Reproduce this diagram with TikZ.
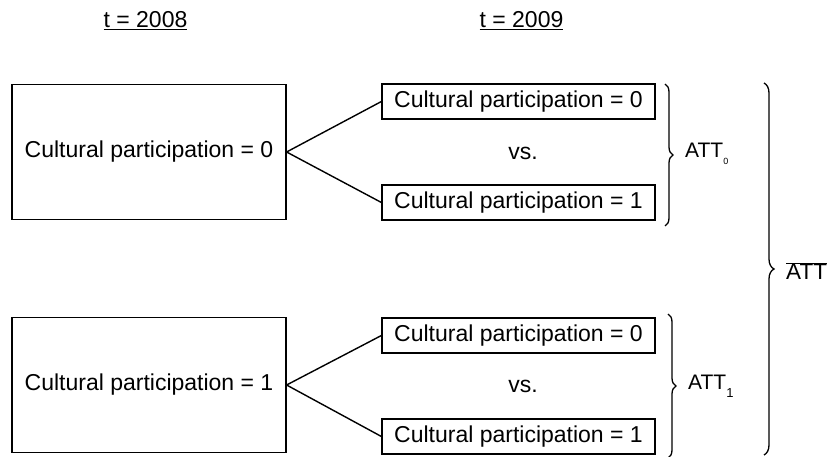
\documentclass[tikz,border=0pt]{standalone}
\usepackage{fontspec}
\setmainfont{Liberation Sans}
\usetikzlibrary{decorations.pathreplacing}
\begin{document}
\begin{tikzpicture}[x=1pt,y=-1pt,
  every node/.style={font=\fontsize{23}{27}\selectfont, inner sep=0pt},
  bigbox/.style={draw, line width=1.2pt, minimum width=274pt, minimum height=135pt},
  smallbox/.style={draw, line width=1.2pt, minimum width=273pt, minimum height=35pt},
  link/.style={line width=1.4pt},
  brc/.style={decorate, decoration={brace, amplitude=8pt}, line width=1.3pt},
  hdr/.style={anchor=base},
  attlab/.style={font=\fontsize{21}{25}\selectfont, anchor=west}]
\useasboundingbox (0,0) rectangle (831,457);
\node[hdr] (h1) at (145.5,28) {\underline{t = 2008}};
\node[hdr] (h2) at (521.5,28) {\underline{t = 2009}};

\node[bigbox] (b0) at (149,152) {Cultural participation = 0};
\node[bigbox] (b1) at (149,385) {Cultural participation = 1};

\node[smallbox] (a0) at (518.5,101.5) {Cultural participation = 0};
\node[smallbox] (a1) at (518.5,202.5) {Cultural participation = 1};
\node[smallbox] (c0) at (518.5,335.5) {Cultural participation = 0};
\node[smallbox] (c1) at (518.5,436.5) {Cultural participation = 1};

\node (vs0) at (523,153) {vs.};
\node (vs1) at (523,386) {vs.};

\draw[link] (b0.east) -- (a0.west);
\draw[link] (b0.east) -- (a1.west);
\draw[link] (b1.east) -- (c0.west);
\draw[link] (b1.east) -- (c1.west);

\coordinate (br0t) at (665,84);
\coordinate (br0b) at (665,226);
\coordinate (br1t) at (668,314);
\coordinate (br1b) at (668,458);
\coordinate (bigt) at (764,83);
\coordinate (bigb) at (764,455);
\draw[brc] (br0t) -- (br0b);
\draw[brc] (br1t) -- (br1b);
\draw[brc, decoration={amplitude=10pt}] (bigt) -- (bigb);

\node[attlab] (att0) at (685,154) {ATT\raisebox{-7pt}{\fontsize{9}{9}\selectfont 0}};
\node[attlab] (att1) at (688,386) {ATT\raisebox{-8pt}{\fontsize{13}{13}\selectfont 1}};
\node[attlab, font=\fontsize{22.5}{26}\selectfont] (att) at (786,271) {$\overline{\mbox{ATT}}$};
\end{tikzpicture}
\end{document}
